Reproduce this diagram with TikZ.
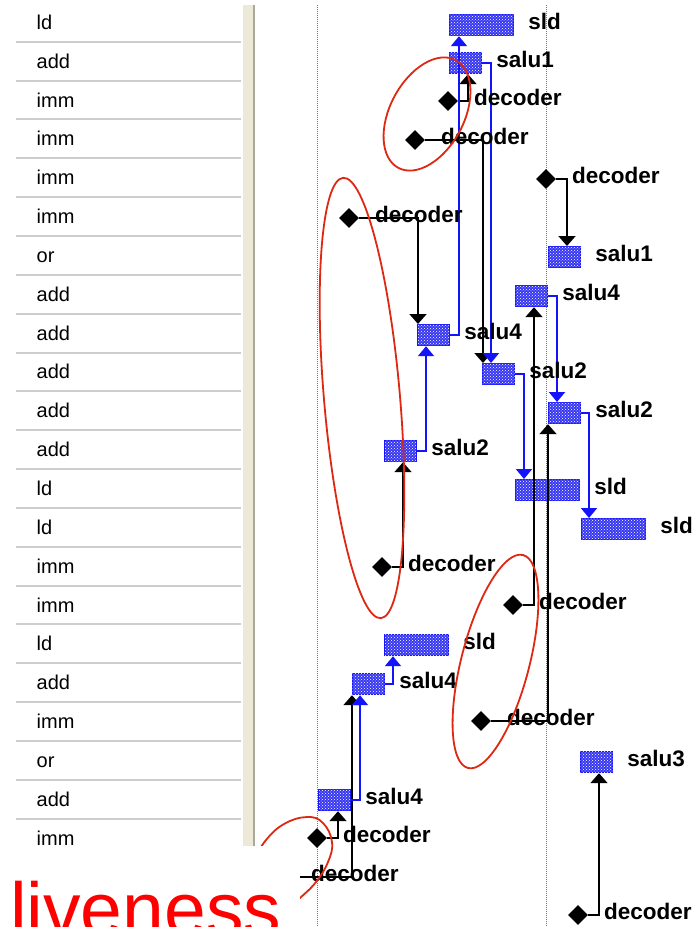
\documentclass[tikz,border=0pt]{standalone}
\usepackage{fontspec}
\setmainfont{Liberation Sans}
\usetikzlibrary{arrows.meta,shapes.geometric,patterns}
\definecolor{unitblue}{RGB}{20,20,250}
\definecolor{unitfill}{RGB}{55,55,240}
\definecolor{ringred}{RGB}{222,40,18}
\definecolor{barface}{RGB}{236,233,216}
\definecolor{barshade}{RGB}{172,168,153}
\definecolor{rowrule}{RGB}{205,205,205}
\definecolor{guide}{RGB}{120,120,120}
\begin{document}
\begin{tikzpicture}[x=1pt,y=-1pt,
  oplabel/.style={font=\fontsize{20}{24}\selectfont, inner sep=0pt, anchor=base west},
  tag/.style={font=\bfseries\fontsize{22.5}{26}\selectfont, inner sep=0pt, anchor=base west},
  unit/.style={draw=unitblue, line width=1.2pt, fill=unitfill,
    postaction={pattern=crosshatch dots, pattern color=white},
    minimum height=21pt, minimum width=32pt, inner sep=0pt, anchor=north west},
  wideunit/.style={unit, minimum width=64pt},
  src/.style={diamond, fill=black, minimum size=20pt, inner sep=0pt},
  dep/.style={draw=black, line width=2pt, -{Triangle[width=17pt,length=10pt]}},
  flow/.style={draw=unitblue, line width=2pt, -{Triangle[width=16pt,length=10pt]}},
  ring/.style={draw=ringred, line width=1.8pt},
  rowline/.style={draw=rowrule, line width=2pt},
  guideline/.style={draw=guide, line width=1pt, dash pattern=on 1pt off 1pt}
]
\useasboundingbox (0,0) rectangle (700,927);
\clip (0,0) rectangle (700,927);
\fill[white] (0,0) rectangle (700,927);

% instruction list on the left
\foreach \k in {0,...,20}
  \draw[rowline] (16,{41.7+38.85*\k}) -- (241,{41.7+38.85*\k});
\foreach \op [count=\i from 0] in {ld,add,imm,imm,imm,imm,or,add,add,add,add,add,ld,ld,imm,imm,ld,add,imm,or,add,imm}
  \node[oplabel] (op\i) at (36.5,{29.3+38.85*\i}) {\op};

% splitter bar
\fill[barface] (242,5) rectangle (255,846);
\draw[barshade, line width=2pt] (254,5) -- (254,846);
\draw[white, line width=1pt] (242.5,5) -- (242.5,846);

% cycle guides
\draw[guideline] (317,5) -- (317,927);
\draw[guideline] (546,5) -- (546,927);

% functional units
\node[wideunit] (b1) at (449,14) {};
\node[unit] (b2) at (449,52) {};
\node[unit] (b3) at (548,246) {};
\node[unit] (b4) at (417,324) {};
\node[unit] (b5) at (482,363) {};
\node[unit] (b6) at (515,285) {};
\node[unit] (b7) at (548,402) {};
\node[unit] (b8) at (384,440) {};
\node[wideunit] (b9) at (515,479) {};
\node[wideunit] (b10) at (581,518) {};
\node[wideunit] (b11) at (384,634) {};
\node[unit] (b12) at (352,673) {};
\node[unit] (b13) at (318,789) {};
\node[unit] (b14) at (580,751) {};

% decoders
\node[src] (dA) at (448,101) {};
\node[src] (dB) at (415,140) {};
\node[src] (dC) at (546,179) {};
\node[src] (dD) at (349,218) {};
\node[src] (dE) at (382,567) {};
\node[src] (dF) at (513,605) {};
\node[src] (dG) at (481,721) {};
\node[src] (dH) at (317,838) {};
\coordinate (dI) at (285,877);
\node[src] (dJ) at (578,915) {};

% decoder to unit edges
\draw[dep] (dA.east) -| ([xshift=19pt]b2.south west);
\draw[dep] (dB.east) -| ([xshift=1pt]b5.north west);
\draw[dep] (dC.east) -| ([xshift=19pt]b3.north west);
\draw[dep] (dD.east) -| ([xshift=1pt]b4.north west);
\draw[dep] (dE.east) -| ([xshift=19pt]b8.south west);
\draw[dep] (dF.east) -| ([xshift=19pt]b6.south west);
\draw[dep] (dG.east) -| (b7.south west);
\draw[dep] (dH.east) -| ([xshift=20pt]b13.south west);
\draw[dep] (dI) -| (b12.south west);
\draw[dep] (dJ.east) -| ([xshift=19pt]b14.south west);

% unit to unit edges
\draw[flow] (b2.east) -| ([xshift=9pt]b5.north west);
\draw[flow] (b4.east) -| ([xshift=10pt]b1.south west);
\draw[flow] (b8.east) -| ([xshift=9pt]b4.south west);
\draw[flow] (b6.east) -| ([xshift=9pt]b7.north west);
\draw[flow] (b5.east) -| ([xshift=9pt]b9.north west);
\draw[flow] (b7.east) -| ([xshift=8pt]b10.north west);
\draw[flow] (b12.east) -| ([xshift=9pt]b11.south west);
\draw[flow] (b13.east) -| ([xshift=8pt]b12.south west);

% unit names
\node[tag] (b1t) at ([xshift=14pt,yshift=-4pt]b1.east) {sld};
\node[tag] (b2t) at ([xshift=14pt,yshift=-4pt]b2.east) {salu1};
\node[tag] (b3t) at ([xshift=14pt,yshift=-4pt]b3.east) {salu1};
\node[tag] (b4t) at ([xshift=14pt,yshift=-4pt]b4.east) {salu4};
\node[tag] (b5t) at ([xshift=14pt,yshift=-4pt]b5.east) {salu2};
\node[tag] (b6t) at ([xshift=14pt,yshift=-4pt]b6.east) {salu4};
\node[tag] (b7t) at ([xshift=14pt,yshift=-4pt]b7.east) {salu2};
\node[tag] (b8t) at ([xshift=14pt,yshift=-4pt]b8.east) {salu2};
\node[tag] (b9t) at ([xshift=14pt,yshift=-4pt]b9.east) {sld};
\node[tag] (b10t) at ([xshift=14pt,yshift=-4pt]b10.east) {sld};
\node[tag] (b11t) at ([xshift=14pt,yshift=-4pt]b11.east) {sld};
\node[tag] (b12t) at ([xshift=14pt,yshift=-4pt]b12.east) {salu4};
\node[tag] (b13t) at ([xshift=14pt,yshift=-4pt]b13.east) {salu4};
\node[tag] (b14t) at ([xshift=14pt,yshift=-4pt]b14.east) {salu3};

% decoder names
\foreach \d in {dA,dB,dC,dD,dE,dF,dG,dH,dJ}
  \node[tag] (\d t) at ([xshift=26pt,yshift=-4pt]\d.center) {decoder};
\node[tag] (dIt) at ([xshift=26pt,yshift=-4pt]dI) {decoder};

% live ranges
\draw[ring, rotate around={62:(427,114)}] (427,114) ellipse [x radius=61, y radius=37];
\draw[ring, rotate around={94.9:(362,398)}] (362,398) ellipse [x radius=221, y radius=38];
\draw[ring, rotate around={75.5:(495.5,661.5)}] (495.5,661.5) ellipse [x radius=110, y radius=34];
\draw[ring] plot[smooth, tension=0.7] coordinates {(255,858) (266,840) (284,824) (307,817) (323,823) (332,842) (328,862) (316,882) (300,898) (288,908)};

% caption panel
\fill[white] (0,846) rectangle (300,927);
\node[font=\fontsize{75}{80}\selectfont, text=red, inner sep=0pt, anchor=base west] (caption) at (10,935.5) {liveness};
\end{tikzpicture}
\end{document}
